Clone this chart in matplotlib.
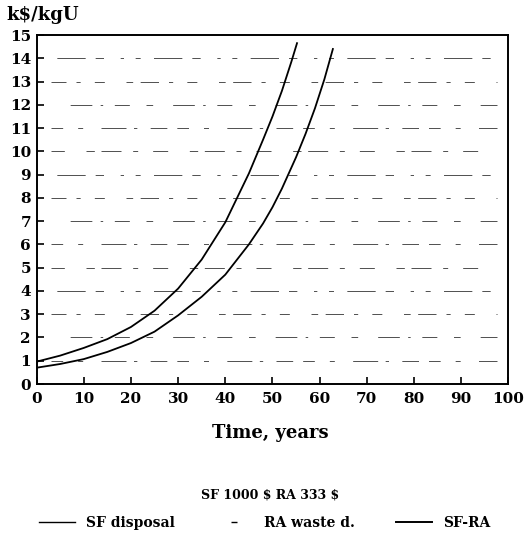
import matplotlib.pyplot as plt
from matplotlib.lines import Line2D

# values (years, k$/kgU)
sf_years = [0, 5, 10, 15, 20, 25, 30, 35, 40, 45, 48, 50, 52, 54, 55.2]
sf_cost = [0.96, 1.22, 1.55, 1.93, 2.45, 3.15, 4.1, 5.35, 6.95, 9.05, 10.5, 11.5, 12.6, 13.85, 14.65]

sfra_years = [0, 5, 10, 15, 20, 25, 30, 35, 40, 45, 48, 50, 52, 55, 57, 59, 61, 62.8]
sfra_cost = [0.7, 0.86, 1.07, 1.38, 1.76, 2.25, 2.95, 3.75, 4.7, 6.0, 6.9, 7.6, 8.4, 9.75, 10.75, 11.85, 13.1, 14.4]

grid_levels = list(range(1, 15))
x_ticks = list(range(0, 101, 10))
y_ticks = list(range(0, 16))

FONT = 'DejaVu Serif'

fig = plt.figure(figsize=(5.24, 5.43), dpi=100)
ax = fig.add_axes([0.0697, 0.2928, 0.9006, 0.6427])

# broken dashed grid, like the scanned original
patterns = [
    (0, (14, 18, 6, 22, 30, 9, 4, 16, 20, 12)),
    (9, (8, 24, 26, 10, 3, 14, 18, 20)),
    (4, (22, 12, 5, 17, 12, 26, 8, 9)),
    (15, (6, 16, 34, 12, 10, 20, 4, 14)),
    (2, (18, 26, 10, 8, 24, 14, 6, 18)),
]
for i, lvl in enumerate(grid_levels):
    ax.axhline(lvl, xmin=0.03, xmax=0.975, color='0.2', lw=0.6,
               linestyle=patterns[i % len(patterns)], zorder=1)

ax.plot(sf_years, sf_cost, color='black', lw=1.3, zorder=3)
ax.plot(sfra_years, sfra_cost, color='black', lw=1.3, zorder=3)

ax.set_xlim(0, 100)
ax.set_ylim(0, 15)
ax.set_xticks(x_ticks)
ax.set_yticks(y_ticks)
ax.tick_params(direction='in', length=5, width=1.2, pad=6, labelsize=11)
for lab in ax.get_xticklabels() + ax.get_yticklabels():
    lab.set_family(FONT)
    lab.set_fontweight('bold')
ax.tick_params(axis='y', pad=4)
for s in ax.spines.values():
    s.set_linewidth(1.4)

fig.text(0.012, 0.972, r'k\$/kgU', family=FONT, fontweight='bold', fontsize=13, va='center')
fig.text(0.515, 1 - 433 / 543, 'Time, years', family=FONT, fontsize=13, fontweight='bold',
         ha='center', va='center')
fig.text(0.515, 1 - 495 / 543, r'SF 1000 \$ RA 333 \$', family=FONT, fontsize=9, fontweight='bold',
         ha='center', va='center')

handles = [
    Line2D([], [], color='black', lw=1.0),
    Line2D([], [], color='black', lw=0, marker='_', markersize=5),
    Line2D([], [], color='black', lw=1.4),
]
labels = ['SF disposal', 'RA waste d.', 'SF-RA']
fig.legend(handles, labels, ncol=3, frameon=False, loc='center',
           bbox_to_anchor=(0.505, 1 - 523 / 543), handlelength=2.6, columnspacing=3.0,
           prop={'family': FONT, 'weight': 'bold', 'size': 10})

fig.savefig('out.png', dpi=100)
